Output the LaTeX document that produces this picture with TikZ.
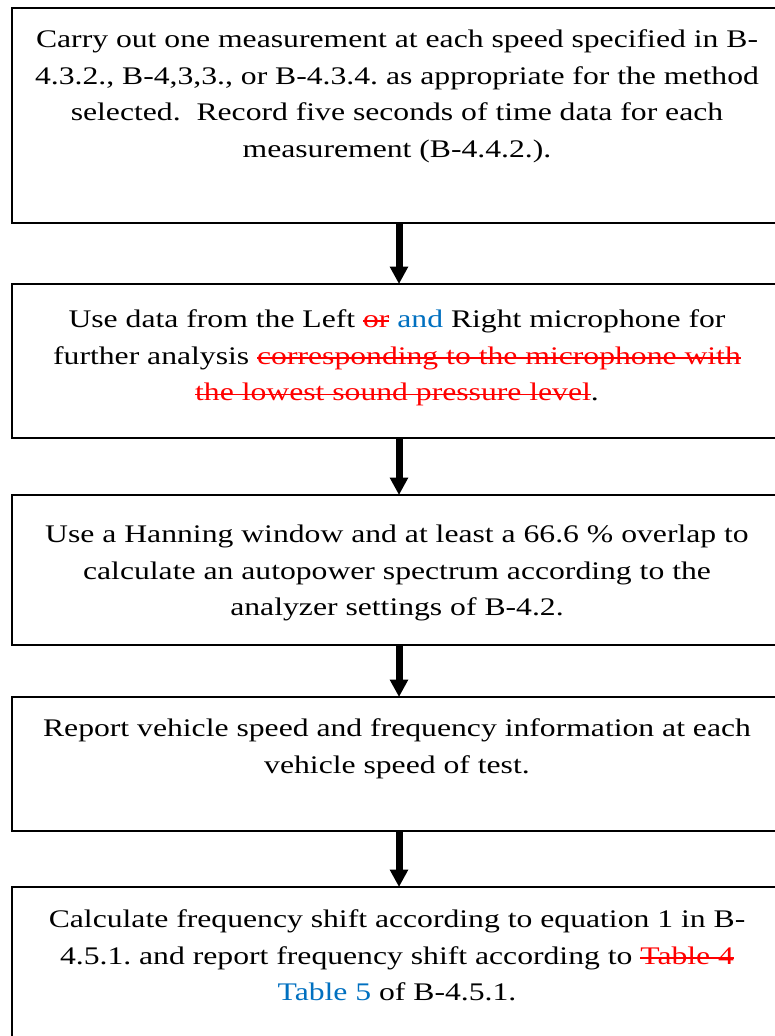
\documentclass[tikz,border=0pt]{standalone}
\usepackage{fontspec}
\setmainfont{Liberation Serif}[FakeStretch=1.25]
\usetikzlibrary{arrows.meta}
\definecolor{delred}{RGB}{255,0,0}
\definecolor{insblue}{RGB}{0,112,192}
\newsavebox\mydelbox
\newcommand{\del}[1]{\sbox\mydelbox{\color{delred}#1}{\color{delred}\rlap{\rule[0.22em]{\wd\mydelbox}{1.3pt}}}\usebox\mydelbox}
\newcommand{\ins}[1]{\textcolor{insblue}{#1}}
\frenchspacing
\begin{document}
\begin{tikzpicture}[x=0.75pt,y=-0.75pt,
  stepbox/.style={draw=black, line width=1.9pt, rectangle},
  steptext/.style={anchor=north, align=center, inner sep=0pt,
    font=\fontsize{19pt}{27.5pt}\selectfont},
  flowarrow/.style={line width=5.25pt, -{Triangle[width=13pt,length=13pt]}}]
\useasboundingbox (0,0) rectangle (775,1036);
\fill[white] (0,0) rectangle (775,1036);
% boxes
\draw[stepbox] (12,8) rectangle (782,223);
\draw[stepbox] (12,284) rectangle (782,438);
\draw[stepbox] (12,495) rectangle (782,645);
\draw[stepbox] (12,697) rectangle (782,831);
\draw[stepbox] (12,887) rectangle (782,1060);
\coordinate (b1s) at (399,223);
\coordinate (b2n) at (399,284);
\coordinate (b2s) at (399,438);
\coordinate (b3n) at (399,495);
\coordinate (b3s) at (399,645);
\coordinate (b4n) at (399,697);
\coordinate (b4s) at (399,831);
\coordinate (b5n) at (399,887);
% texts
\node[steptext] (t1) at (397,29.5) {Carry out one measurement at each speed specified in B-\\
4.3.2., B-4,3,3., or B-4.3.4. as appropriate for the method\\
selected.\ \ Record five seconds of time data for each\\
measurement (B-4.4.2.).};
\node[steptext] (t2) at (397,309.5) {Use data from the Left \del{or} \ins{and} Right microphone for\\
further analysis \del{corresponding to the microphone with}\\
\del{the lowest sound pressure level}.};
\node[steptext] (t3) at (397,524.5) {Use a Hanning window and at least a 66.6 \% overlap to\\
calculate an autopower spectrum according to the\\
analyzer settings of B-4.2.};
\node[steptext] (t4) at (397,718.5) {Report vehicle speed and frequency information at each\\
vehicle speed of test.};
\node[steptext] (t5) at (397,909.5) {Calculate frequency shift according to equation 1 in B-\\
4.5.1. and report frequency shift according to \del{Table 4}\\
\ins{Table 5} of B-4.5.1.};
% arrows
\draw[flowarrow] (b1s) -- (b2n);
\draw[flowarrow] (b2s) -- (b3n);
\draw[flowarrow] (b3s) -- (b4n);
\draw[flowarrow] (b4s) -- (b5n);
\end{tikzpicture}
\end{document}
